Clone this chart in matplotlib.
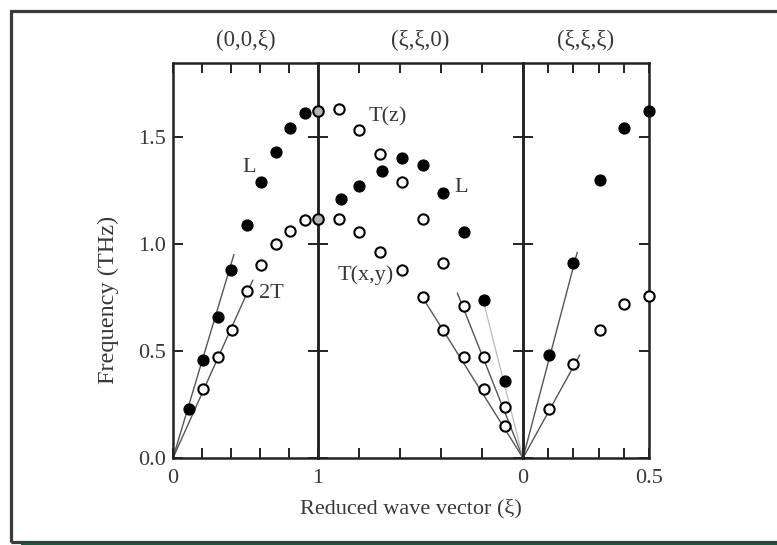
import matplotlib
matplotlib.use("Agg")
import matplotlib.pyplot as plt
from matplotlib.patches import Rectangle
import numpy as np

plt.rcParams['font.family'] = ['Liberation Serif', 'DejaVu Serif']
plt.rcParams['mathtext.fontset'] = 'stix'

# ---------------- data ----------------
# Panel 1: (0,0,xi)
q1_L = [0.11, 0.21, 0.31, 0.40, 0.51, 0.61, 0.71, 0.81, 0.91]
f1_L = [0.23, 0.46, 0.66, 0.88, 1.09, 1.29, 1.43, 1.54, 1.61]
q1_T = [0.21, 0.31, 0.41, 0.51, 0.61, 0.71, 0.81, 0.91]
f1_T = [0.32, 0.47, 0.60, 0.78, 0.90, 1.00, 1.06, 1.11]
# zone-boundary points shared by (0,0,xi) and (xi,xi,0)
qX = [1.0, 1.0]
fX = [1.62, 1.115]

# Panel 2: (xi,xi,0)
q2 = [0.89, 0.80, 0.69, 0.59, 0.49, 0.39, 0.29, 0.19, 0.09]
f2_L = [1.21, 1.27, 1.34, 1.40, 1.37, 1.24, 1.055, 0.74, 0.36]
q2_T = [0.90, 0.80, 0.70, 0.59, 0.49, 0.39, 0.29, 0.19, 0.09]
f2_Tz = [1.63, 1.53, 1.42, 1.29, 1.115, 0.91, 0.71, 0.47, 0.24]
f2_Txy = [1.115, 1.055, 0.96, 0.88, 0.75, 0.60, 0.47, 0.32, 0.15]

# Panel 3: (xi,xi,xi)
q3 = [0.105, 0.20, 0.305, 0.40, 0.50]
f3_L = [0.48, 0.91, 1.30, 1.54, 1.62]
f3_T = [0.23, 0.44, 0.60, 0.72, 0.755]

# sound-velocity lines (end points, from origin)
line1_q = [0.42, 0.55]
line1_f = [0.95, 0.83]
line2_q = [0.49, 0.32]
line2_f = [0.75, 0.77]
line2L_q = 0.19
line2L_f = 0.72
line3_q = [0.215, 0.225]
line3_f = [0.96, 0.48]

panel_titles = ['(0,0,ξ)', '(ξ,ξ,0)', '(ξ,ξ,ξ)']
ytick_vals = [0.0, 0.5, 1.0, 1.5]
ytick_labels = ['0.0', '0.5', '1.0', '1.5']

# ---------------- figure ----------------
W, H = 777, 545
fig = plt.figure(figsize=(W / 100, H / 100), dpi=100)
fig.patch.set_facecolor('white')

left, right, top, bottom = 173, 649, 63, 458
gs = fig.add_gridspec(1, 3, width_ratios=[145, 205, 126], wspace=0,
                      left=left / W, right=right / W,
                      top=1 - top / H, bottom=1 - bottom / H)
ax1 = fig.add_subplot(gs[0])
ax2 = fig.add_subplot(gs[1], sharey=ax1)
ax3 = fig.add_subplot(gs[2], sharey=ax1)

TXT = '#383838'
FS = 16
ymax = 1.845

filled = dict(marker='o', ms=7.8, mfc='black', mec='black', ls='none',
              clip_on=False, zorder=4)
opened = dict(marker='o', ms=7.4, mfc='white', mec='black', mew=1.5,
              ls='none', clip_on=False, zorder=4)
lkw = dict(color='#555555', lw=1.0, zorder=2)

for ax in (ax1, ax2, ax3):
    ax.set_ylim(0, ymax)
    ax.patch.set_visible(False)
    for s in ax.spines.values():
        s.set_linewidth(1.8)
        s.set_color('#222222')
    ax.tick_params(direction='in', length=7, width=1.4, colors='#222222',
                   top=True, right=True, labelsize=FS, labelcolor=TXT, pad=8)
    ax.tick_params(axis='y', pad=5)

# Panel 1
ax1.set_xlim(0, 1)
ax1.plot([0, line1_q[0]], [0, line1_f[0]], **lkw)
ax1.plot([0, line1_q[1]], [0, line1_f[1]], **lkw)
ax1.plot(q1_L, f1_L, **filled)
ax1.plot(q1_T, f1_T, **opened)
ax1.set_xticks(np.arange(0, 1.01, 0.2))
ax1.set_xticklabels(['0', '', '', '', '', '1'])
ax1.set_yticks(ytick_vals)
ax1.set_yticklabels(ytick_labels)
ax1.text(0.524, 1.355, 'L', fontsize=FS, color=TXT, ha='center', va='center')
ax1.text(0.68, 0.77, '2T', fontsize=FS, color=TXT, ha='center', va='center')

# Panel 2
ax2.set_xlim(1, 0)
ax2.plot([0, line2_q[0]], [0, line2_f[0]], **lkw)
ax2.plot([0, line2_q[1]], [0, line2_f[1]], **lkw)
ax2.plot([0, line2L_q], [0, line2L_f], color='#bbbbbb', lw=0.9, zorder=2)
ax2.plot(q2, f2_L, **filled)
ax2.plot(q2_T, f2_Tz, **opened)
ax2.plot(q2_T, f2_Txy, **opened)
ax2.plot(qX, fX, marker='o', ms=7.6, mfc='#b4b4b4', mec='black',
         mew=1.5, ls='none', clip_on=False, zorder=6)
ax2.set_xticks(np.arange(0, 1.01, 0.2))
ax2.set_xticklabels(['0', '', '', '', '', ''])
ax2.tick_params(axis='y', labelleft=False)
ax2.text(0.66, 1.595, 'T(z)', fontsize=FS, color=TXT, ha='center', va='center')
ax2.text(0.30, 1.262, 'L', fontsize=FS, color=TXT, ha='center', va='center')
ax2.text(0.765, 0.855, 'T(x,y)', fontsize=FS, color=TXT, ha='center', va='center')

# Panel 3
ax3.set_xlim(0, 0.5)
ax3.plot([0, line3_q[0]], [0, line3_f[0]], **lkw)
ax3.plot([0, line3_q[1]], [0, line3_f[1]], **lkw)
ax3.plot(q3, f3_L, **filled)
ax3.plot(q3, f3_T, **opened)
ax3.set_xticks(np.arange(0, 0.51, 0.1))
ax3.set_xticklabels(['', '', '', '', '', '0.5'])
ax3.tick_params(axis='y', labelleft=False)

for ax, t in zip((ax1, ax2, ax3), panel_titles):
    ax.set_title(t, fontsize=16.5, color=TXT, pad=12)

fig.text(108 / W, 1 - 300 / H, 'Frequency (THz)', rotation=90, fontsize=17.5,
         color=TXT, ha='center', va='center')
fig.text(411 / W, 1 - 509 / H, 'Reduced wave vector (ξ)', fontsize=16,
         color=TXT, ha='center', va='center')

# outer frame and green strip
fig.patches.append(Rectangle((10.5 / W, 1 - 541.5 / H), (W + 20) / W,
                             (541.5 - 10.5) / H, transform=fig.transFigure,
                             fill=False, edgecolor='#3a3a3a', lw=2.3,
                             zorder=10))
fig.patches.append(Rectangle((21 / W, 0), (W - 21) / W, 2.5 / H,
                             transform=fig.transFigure, facecolor='#0f5c3a',
                             edgecolor='none', zorder=10))

fig.savefig('out.png', dpi=100)
